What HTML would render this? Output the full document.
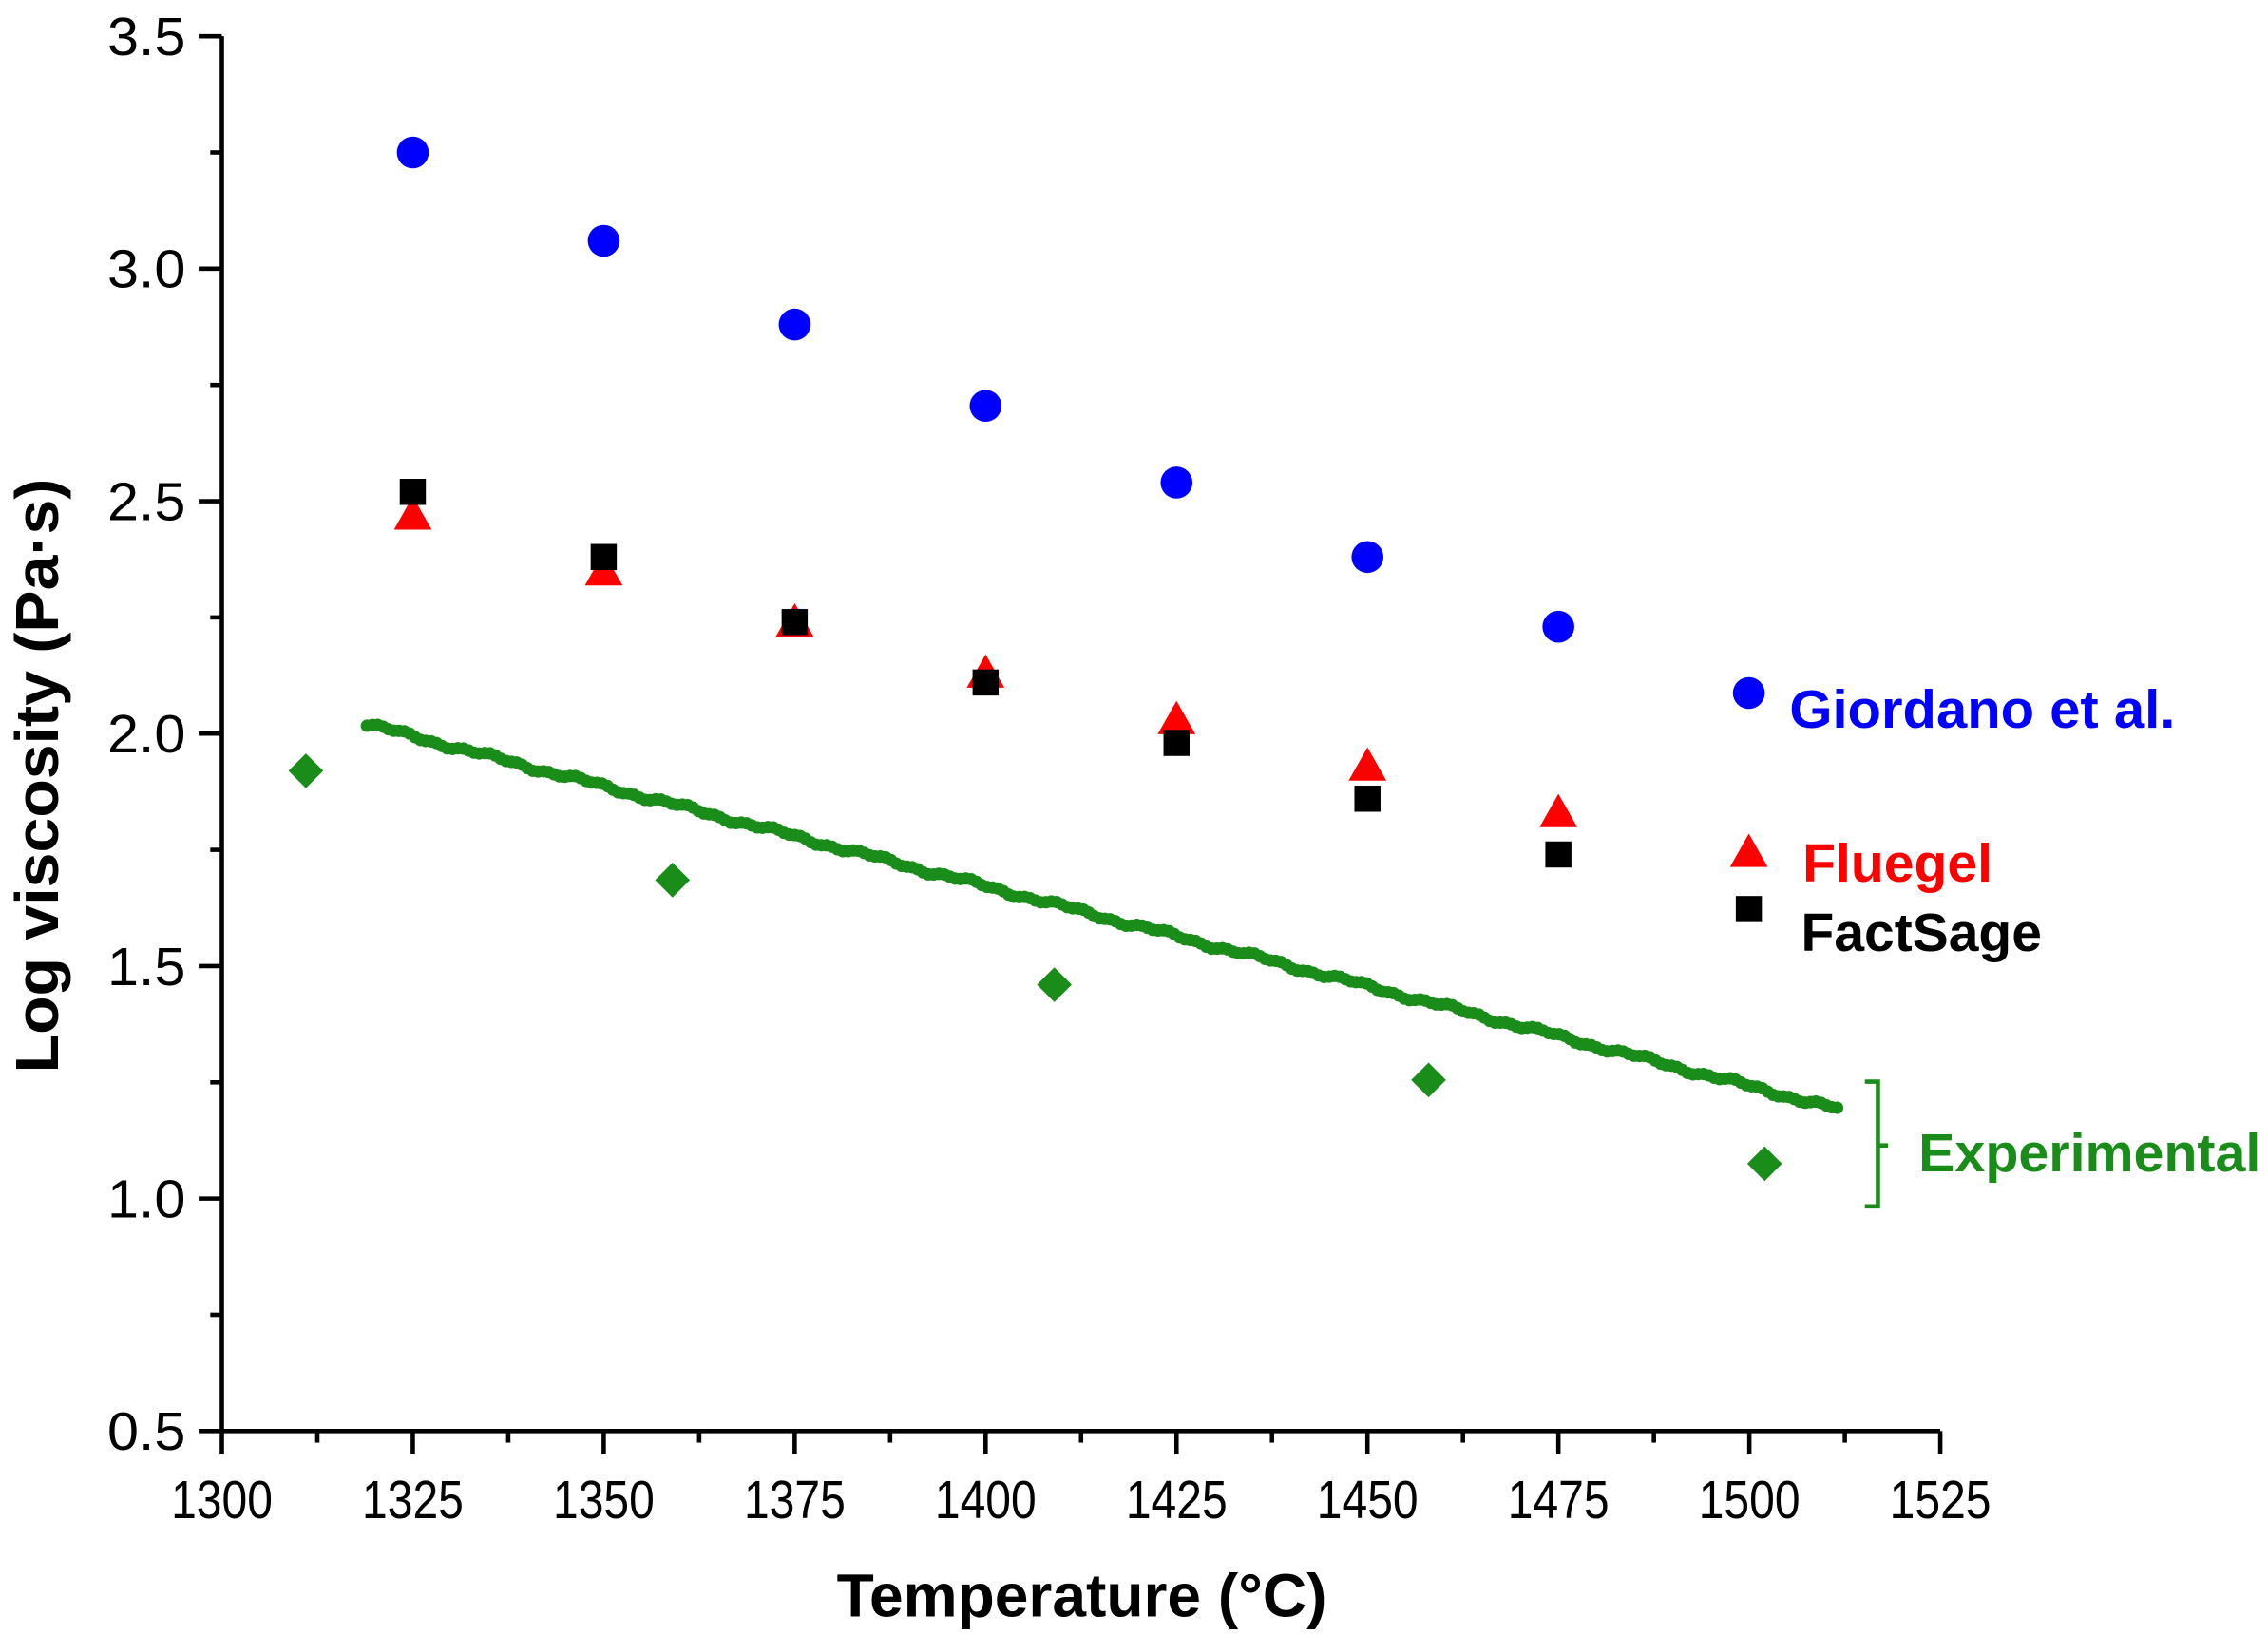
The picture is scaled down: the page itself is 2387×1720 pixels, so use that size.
<!DOCTYPE html>
<html><head><meta charset="utf-8"><style>html,body{margin:0;padding:0;background:#fff}svg{display:block}</style></head>
<body>
<svg id="s" width="2387" height="1720" viewBox="0 0 1564 1127" preserveAspectRatio="none" xmlns="http://www.w3.org/2000/svg" font-family="Liberation Sans, Arial, sans-serif">
<rect width="1564" height="1127" fill="#fff"/>
<g id="ax" stroke="#000" stroke-width="3" fill="none">
<line x1="153" y1="25" x2="153" y2="988"/>
<line x1="151.5" y1="987" x2="1338" y2="987"/>
</g>
<g id="lab" font-size="37" fill="#000"></g>
<text x="577" y="1115" font-size="42" font-weight="bold" textLength="338" lengthAdjust="spacingAndGlyphs">Temperature (°C)</text>
<text transform="translate(40,740) rotate(-90)" font-size="42" font-weight="bold" textLength="410" lengthAdjust="spacingAndGlyphs">Log viscosity (Pa·s)</text>
<g id="data"></g>
<path d="M1286,746 h9 v44 h7 M1295,790 v42 h-9" stroke="#1a8c1a" stroke-width="3" fill="none"/>
<text x="1234" y="502" font-size="37" font-weight="bold" fill="#0000ff" textLength="266" lengthAdjust="spacingAndGlyphs">Giordano et al.</text>
<text x="1243" y="608" font-size="37" font-weight="bold" fill="#ff0000" textLength="131" lengthAdjust="spacingAndGlyphs">Fluegel</text>
<text x="1242" y="656" font-size="37" font-weight="bold" fill="#000" textLength="166" lengthAdjust="spacingAndGlyphs">FactSage</text>
<text x="1323" y="808" font-size="37" font-weight="bold" fill="#1a8c1a" textLength="236" lengthAdjust="spacingAndGlyphs">Experimental</text>
</svg>
<script>
var NS="http://www.w3.org/2000/svg";
function X(t){return 153+(t-1300)*(1185/225);}
function Y(v){return 987-(v-0.5)*(962/3);}
function el(p,n,a,txt){var e=document.createElementNS(NS,n);for(var k in a)e.setAttribute(k,a[k]);if(txt!==undefined)e.textContent=txt;document.getElementById(p).appendChild(e);}
for(var i=0;i<=12;i++){var v=0.5+i*0.25,y=Y(v),maj=i%2==0;
 el("ax","line",{x1:maj?137:145,y1:y,x2:153,y2:y});
 if(maj)el("lab","text",{x:128,y:y+13,"text-anchor":"end",textLength:54,lengthAdjust:"spacingAndGlyphs"},v.toFixed(1));}
for(var i=0;i<=18;i++){var t=1300+i*12.5,x=X(t),maj=i%2==0;
 el("ax","line",{x1:x,y1:987,x2:x,y2:maj?1003:995});
 if(maj)el("lab","text",{x:x-35,y:1047,textLength:70,lengthAdjust:"spacingAndGlyphs"},String(t));}
var T=[1325,1350,1375,1400,1425,1450,1475];
var B=[3.25,3.06,2.88,2.705,2.54,2.38,2.23],R=[2.47,2.35,2.24,2.13,2.03,1.93,1.83],K=[2.52,2.38,2.24,2.11,1.98,1.86,1.74];
for(var t=1319;t<=1512;t+=0.7){var v=2.02-(t-1319)*0.0043+0.004*Math.sin(t*0.5)+0.003*Math.sin(t*1.7);
 el("data","circle",{cx:X(t),cy:Y(v),r:4.3,fill:"#1a8c1a"});}
[[1311,1.92],[1359,1.685],[1409,1.46],[1458,1.255],[1502,1.075]].forEach(function(p){var x=X(p[0]),y=Y(p[1]);
 el("data","polygon",{points:(x)+","+(y-12)+" "+(x+12)+","+y+" "+x+","+(y+12)+" "+(x-12)+","+y,fill:"#1a8c1a"});});
function tri(x,y){el("data","polygon",{points:x+","+(y-13)+" "+(x+13)+","+(y+10)+" "+(x-13)+","+(y+10),fill:"#ff0000"});}
function sq(x,y){el("data","rect",{x:x-9,y:y-9,width:18,height:18,fill:"#000"});}
function ci(x,y){el("data","circle",{cx:x,cy:y,r:11,fill:"#0000ff"});}
for(var i=0;i<7;i++){ci(X(T[i]),Y(B[i]));tri(X(T[i]),Y(R[i]));sq(X(T[i]),Y(K[i]));}
ci(1206,478);tri(1206,588);sq(1206,627);
</script>
</body></html>
